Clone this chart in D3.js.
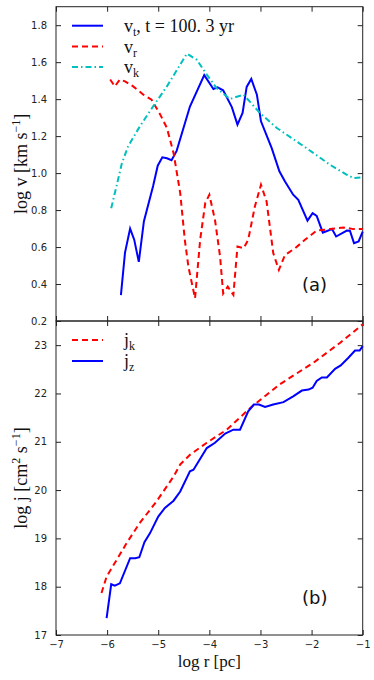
<!DOCTYPE html>
<html>
<head>
<meta charset="utf-8">
<script src="https://cdn.jsdelivr.net/npm/d3@7"></script>
<style>
  body { margin: 0; background: #fff; }
  .tick text { font-family: "DejaVu Sans", sans-serif; font-size: 10px; fill: #222; }
  .tick line { stroke: #222; }
  .domain { stroke: none; }
</style>
</head>
<body>
<div id="chart"></div>
<script>
/// data

// panel (a): log v vs log r
var vtR = [-5.73, -5.65, -5.55, -5.47, -5.38, -5.28, -5.10, -5.01, -4.92, -4.83, -4.74, -4.64, -4.38, -4.10, -3.92, -3.84, -3.73, -3.56, -3.45, -3.35, -3.27, -3.18, -3.07, -2.99, -2.78, -2.63, -2.52, -2.36, -2.26, -2.08, -1.98, -1.90, -1.78, -1.60, -1.52, -1.31, -1.25, -1.17, -1.08, -1.00];
var vtV = [0.34, 0.57, 0.70, 0.64, 0.52, 0.74, 0.93, 1.04, 1.085, 1.08, 1.07, 1.12, 1.36, 1.53, 1.455, 1.464, 1.448, 1.357, 1.262, 1.325, 1.466, 1.509, 1.424, 1.28, 1.135, 1.01, 0.955, 0.883, 0.855, 0.743, 0.783, 0.769, 0.678, 0.697, 0.657, 0.689, 0.688, 0.621, 0.63, 0.684];

var vrR = [-5.94, -5.85, -5.75, -5.65, -5.49, -5.29, -5.13, -4.96, -4.83, -4.70, -4.57, -4.48, -4.41, -4.28, -4.18, -4.08, -4.00, -3.89, -3.79, -3.73, -3.64, -3.53, -3.45, -3.33, -3.24, -3.11, -2.99, -2.88, -2.75, -2.64, -2.52, -2.32, -2.13, -1.90, -1.64, -1.38, -1.18, -1.00];
var vrV = [1.506, 1.469, 1.506, 1.496, 1.469, 1.424, 1.397, 1.316, 1.244, 1.108, 0.892, 0.639, 0.494, 0.323, 0.639, 0.838, 0.883, 0.747, 0.548, 0.349, 0.386, 0.341, 0.603, 0.594, 0.639, 0.819, 0.937, 0.846, 0.567, 0.476, 0.557, 0.594, 0.639, 0.689, 0.697, 0.706, 0.697, 0.697];

var vkR = [-5.92, -5.81, -5.71, -5.59, -5.36, -5.10, -4.83, -4.57, -4.44, -4.25, -4.05, -3.86, -3.60, -3.33, -3.01, -2.68, -2.29, -1.96, -1.64, -1.31, -1.18, -1.00];
var vkV = [0.81, 0.937, 1.054, 1.144, 1.253, 1.361, 1.469, 1.587, 1.646, 1.614, 1.533, 1.46, 1.401, 1.424, 1.325, 1.244, 1.171, 1.108, 1.045, 0.991, 0.973, 0.978];

// panel (b): log j vs log r
var jkR = [-6.11, -6.01, -5.81, -5.62, -5.36, -5.03, -4.70, -4.57, -4.38, -4.05, -3.66, -3.20, -2.62, -1.96, -1.44, -1.00];
var jkJ = [17.87, 18.21, 18.56, 18.90, 19.32, 19.77, 20.28, 20.53, 20.73, 20.98, 21.25, 21.70, 22.19, 22.64, 23.05, 23.43];

var jzR = [-6.01, -5.92, -5.85, -5.75, -5.55, -5.45, -5.37, -5.27, -5.16, -5.00, -4.87, -4.70, -4.57, -4.38, -4.31, -4.05, -3.89, -3.69, -3.53, -3.40, -3.24, -3.13, -3.03, -2.91, -2.75, -2.55, -2.36, -2.19, -2.06, -1.98, -1.90, -1.80, -1.70, -1.54, -1.43, -1.28, -1.15, -1.06, -1.00];
var jzJ = [17.35, 18.05, 18.02, 18.07, 18.59, 18.59, 18.61, 18.92, 19.11, 19.45, 19.63, 19.78, 19.97, 20.39, 20.42, 20.87, 20.98, 21.17, 21.25, 21.25, 21.63, 21.77, 21.77, 21.72, 21.77, 21.82, 21.94, 22.06, 22.08, 22.12, 22.26, 22.33, 22.33, 22.51, 22.58, 22.74, 22.89, 22.89, 22.98];

var xTicks = [-7, -6, -5, -4, -3, -2, -1];
var vTicks = [0.2, 0.4, 0.6, 0.8, 1.0, 1.2, 1.4, 1.6, 1.8];
var jTicks = [17, 18, 19, 20, 21, 22, 23];

//Geometry
var W = 374, H = 680;
var left = 56, right = 362.7;
var topA = 6.7, mid = 321, botB = 635;
var serif = "'Liberation Serif', 'DejaVu Serif', serif";

var xScale = d3.scaleLinear().domain([-7, -1]).range([left, right]);
var yA = d3.scaleLinear().domain([0.2, 1.9]).range([mid, topA]);
var yB = d3.scaleLinear().domain([17, 23.5]).range([botB, mid]);

var svg = d3.select("#chart").append("svg")
  .attr("width", W).attr("height", H);

function zip(xs, ys) {
  return xs.map(function (x, i) { return [x, ys[i]]; });
}

function drawPanel(y, y0, y1, ticks, fmt, showX) {
  var g = svg.append("g");
  // all ticks point into the panel
  g.append("g").attr("transform", "translate(" + left + ",0)")
    .call(d3.axisLeft(y).tickValues(ticks).tickFormat(fmt).tickSizeInner(-5).tickSizeOuter(0).tickPadding(9));
  g.append("g").attr("transform", "translate(" + right + ",0)")
    .call(d3.axisRight(y).tickValues(ticks).tickFormat("").tickSizeInner(-5).tickSizeOuter(0));
  g.append("g").attr("transform", "translate(0," + y0 + ")")
    .call(d3.axisTop(xScale).tickValues(xTicks).tickFormat("").tickSizeInner(-5).tickSizeOuter(0));
  g.append("g").attr("transform", "translate(0," + y1 + ")")
    .call(d3.axisBottom(xScale).tickValues(xTicks).tickSizeInner(-5).tickSizeOuter(0).tickPadding(6)
      .tickFormat(showX ? function (d) { return String(d).replace("-", "\u2212"); } : ""));
  g.append("rect")
    .attr("x", left).attr("y", y0)
    .attr("width", right - left).attr("height", y1 - y0)
    .attr("fill", "none").attr("stroke", "#222").attr("stroke-width", 1);
  return g;
}

drawPanel(yA, topA, mid, vTicks, d3.format(".1f"), false);
drawPanel(yB, mid, botB, jTicks, d3.format("d"), true);

var lineA = d3.line().x(function (d) { return xScale(d[0]); }).y(function (d) { return yA(d[1]); });
var lineB = d3.line().x(function (d) { return xScale(d[0]); }).y(function (d) { return yB(d[1]); });

var styles = {
  vt: { color: "#0000ff", dash: null },
  vr: { color: "#ff0000", dash: "6,4" },
  vk: { color: "#00bfbf", dash: "6,3,1.5,3" }
};

function addPath(data, gen, st) {
  svg.append("path")
    .datum(data)
    .attr("fill", "none")
    .attr("stroke", st.color)
    .attr("stroke-width", 2)
    .attr("stroke-dasharray", st.dash)
    .attr("d", gen);
}

addPath(zip(vtR, vtV), lineA, styles.vt);
addPath(zip(vrR, vrV), lineA, styles.vr);
addPath(zip(vkR, vkV), lineA, styles.vk);
addPath(zip(jkR, jkJ), lineB, styles.vr);
addPath(zip(jzR, jzJ), lineB, styles.vt);

// legends
function legendRow(y, st, parts) {
  svg.append("line")
    .attr("x1", 72).attr("x2", 103).attr("y1", y).attr("y2", y)
    .attr("stroke", st.color).attr("stroke-width", 2)
    .attr("stroke-dasharray", st.dash);
  var t = svg.append("text")
    .attr("x", 124).attr("y", y + 6)
    .attr("font-family", serif).attr("font-size", 18).attr("fill", "#111");
  parts.forEach(function (p) {
    t.append("tspan")
      .attr("font-size", p.sub ? 12 : 18)
      .attr("dy", p.dy || 0)
      .text(p.s);
  });
}

legendRow(25.7, styles.vt, [{ s: "v" }, { s: "t", sub: true, dy: 4 }, { s: ", t = 100. 3 yr", dy: -4 }]);
legendRow(46.5, styles.vr, [{ s: "v" }, { s: "r", sub: true, dy: 4 }]);
legendRow(67, styles.vk, [{ s: "v" }, { s: "k", sub: true, dy: 4 }]);

legendRow(340, styles.vr, [{ s: "j" }, { s: "k", sub: true, dy: 4 }]);
legendRow(361, styles.vt, [{ s: "j" }, { s: "z", sub: true, dy: 4 }]);

// panel tags
svg.append("text").attr("x", 302).attr("y", 291)
  .attr("font-family", "'DejaVu Sans', sans-serif").attr("font-size", 18).attr("fill", "#111")
  .text("(a)");
svg.append("text").attr("x", 302).attr("y", 604)
  .attr("font-family", "'DejaVu Sans', sans-serif").attr("font-size", 18).attr("fill", "#111")
  .text("(b)");

// axis labels
var la = svg.append("text")
  .attr("transform", "translate(27," + ((topA + mid) / 2) + ") rotate(-90)")
  .attr("text-anchor", "middle")
  .attr("font-family", serif).attr("font-size", 18).attr("fill", "#111");
la.append("tspan").text("log v [km s");
la.append("tspan").attr("font-size", 12).attr("dy", -7).text("\u22121");
la.append("tspan").attr("dy", 7).text("]");

var lb = svg.append("text")
  .attr("transform", "translate(27," + ((mid + botB) / 2) + ") rotate(-90)")
  .attr("text-anchor", "middle")
  .attr("font-family", serif).attr("font-size", 18).attr("fill", "#111");
lb.append("tspan").text("log j [cm");
lb.append("tspan").attr("font-size", 12).attr("dy", -7).text("2");
lb.append("tspan").attr("dy", 7).text(" s");
lb.append("tspan").attr("font-size", 12).attr("dy", -7).text("\u22121");
lb.append("tspan").attr("dy", 7).text("]");

svg.append("text")
  .attr("x", (left + right) / 2).attr("y", 667)
  .attr("text-anchor", "middle")
  .attr("font-family", serif).attr("font-size", 17).attr("fill", "#111")
  .text("log r [pc]");
</script>
</body>
</html>
